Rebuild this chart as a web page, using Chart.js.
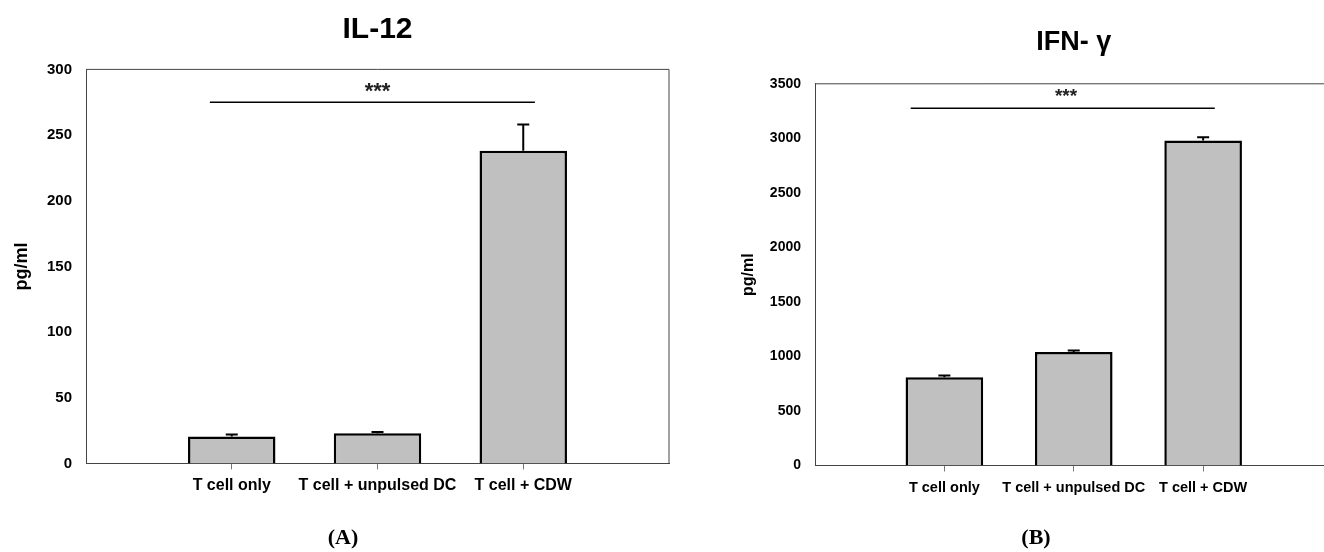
<!DOCTYPE html>
<html lang="en">
<head>
<meta charset="UTF-8">
<title>IL-12 and IFN-γ</title>
<script src="https://cdn.jsdelivr.net/npm/chart.js"></script>
<style>
    body {
        margin: 0;
        width: 1324px;
        height: 552px;
        overflow: hidden;
        position: relative;
        background: #fff;
    }
    .panel { position: absolute; top: 0; height: 552px; }
    #panelA { left: 0; width: 680px; }
    #panelB { left: 680px; width: 660px; }
    .caption {
        position: absolute;
        top: 526px;
        width: 100px;
        text-align: center;
        font: bold 22px/22px 'Liberation Serif', 'DejaVu Serif', serif;
        color: #000;
    }
</style>
</head>
<body>
<div class="panel" id="panelA"><canvas id="chartA"></canvas></div>
<div class="panel" id="panelB"><canvas id="chartB"></canvas></div>
<div class="caption" style="left:293px">(A)</div>
<div class="caption" style="left:986px">(B)</div>
<script>
const categories = ['T cell only', 'T cell + unpulsed DC', 'T cell + CDW'];

const il12Values = [20.5, 23, 238];
const il12Errors = [1.5, 1, 20];
const il12Ticks = [0, 50, 100, 150, 200, 250, 300];

const ifngValues = [810, 1040, 2980];
const ifngErrors = [15, 15, 30];
const ifngTicks = [0, 500, 1000, 1500, 2000, 2500, 3000, 3500];

// significance bar: from, to (category position), height (pg/ml)
const il12Sig = [0.85, 3.08, 275];
const ifngSig = [0.74, 3.09, 3275];

const FONT = "'Liberation Sans', Arial, sans-serif";

// top and right edge of the plot box
const frame = {
    id: 'frame',
    beforeDatasetsDraw(chart) {
        const { ctx, chartArea: a } = chart;
        ctx.save();
        ctx.strokeStyle = '#444';
        ctx.lineWidth = 1;
        ctx.beginPath();
        ctx.moveTo(a.left, a.top);
        ctx.lineTo(a.right, a.top);
        ctx.lineTo(a.right, a.bottom);
        ctx.stroke();
        ctx.restore();
    }
};

const errorBars = {
    id: 'errorBars',
    afterDatasetsDraw(chart) {
        const { ctx } = chart;
        const y = chart.scales.y;
        const ds = chart.data.datasets[0];
        ctx.save();
        ctx.strokeStyle = '#000';
        ctx.lineWidth = 2;
        chart.getDatasetMeta(0).data.forEach((bar, i) => {
            const v = ds.data[i], e = ds.errors[i];
            if (v == null || e == null) return;
            const top = y.getPixelForValue(v + e);
            ctx.beginPath();
            ctx.moveTo(bar.x, bar.y);
            ctx.lineTo(bar.x, top);
            ctx.moveTo(bar.x - 6, top);
            ctx.lineTo(bar.x + 6, top);
            ctx.stroke();
        });
        ctx.restore();
    }
};

const sig = {
    id: 'sig',
    afterDatasetsDraw(chart, args, o) {
        const { ctx, scales: { x, y } } = chart;
        const x1 = x.getPixelForValue(o.bar[0]);
        const x2 = x.getPixelForValue(o.bar[1]);
        const yy = y.getPixelForValue(o.bar[2]);
        ctx.save();
        ctx.strokeStyle = '#000';
        ctx.lineWidth = 1.5;
        ctx.beginPath();
        ctx.moveTo(x1, yy);
        ctx.lineTo(x2, yy);
        ctx.stroke();
        ctx.fillStyle = '#222';
        ctx.font = 'bold ' + o.size + 'px ' + FONT;
        ctx.textAlign = 'center';
        ctx.textBaseline = 'alphabetic';
        ctx.fillText('***', x.getPixelForValue(o.starsAt), yy + o.shift);
        ctx.restore();
    }
};

function makeChart(id, p) {
    return new Chart(document.getElementById(id), {
        type: 'bar',
        data: {
            labels: ['', ...categories, ''],
            datasets: [{
                data: [null, ...p.values, null],
                errors: [null, ...p.errors, null],
                backgroundColor: '#c0c0c0',
                borderColor: '#000',
                borderWidth: 2.5,
                barPercentage: 0.6,
                categoryPercentage: 1
            }]
        },
        options: {
            responsive: true,
            maintainAspectRatio: false,
            animation: false,
            layout: { padding: { top: 0, left: 0, right: p.padRight, bottom: 0 } },
            plugins: {
                legend: { display: false },
                tooltip: { enabled: false },
                title: {
                    display: true,
                    text: p.title,
                    fullSize: false,
                    color: '#000',
                    font: { family: FONT, size: p.titleSize, weight: 'bold' },
                    padding: { top: p.titleTop, bottom: p.titleBottom }
                },
                sig: { bar: p.sig, starsAt: p.starsAt, size: p.starSize, shift: p.starShift }
            },
            scales: {
                x: {
                    offset: false,
                    grid: {
                        offset: false,
                        drawOnChartArea: false,
                        tickLength: 6,
                        tickColor: c => (c.index === 0 || c.index === categories.length + 1) ? 'rgba(0,0,0,0)' : '#777'
                    },
                    border: { color: '#444' },
                    ticks: {
                        autoSkip: false,
                        maxRotation: 0,
                        color: '#000',
                        padding: p.xPad,
                        font: { family: FONT, size: p.xSize, weight: 'bold' }
                    },
                    afterFit: s => { s.height = p.xHeight; }
                },
                y: {
                    min: p.ticks[0],
                    max: p.ticks[p.ticks.length - 1],
                    afterBuildTicks: s => { s.ticks = p.ticks.map(v => ({ value: v })); },
                    grid: { display: false, drawTicks: false },
                    border: { color: '#444' },
                    ticks: {
                        color: '#000',
                        padding: p.yPad,
                        font: { family: FONT, size: p.ySize, weight: 'bold' },
                        callback: v => String(v)
                    },
                    title: {
                        display: true,
                        text: 'pg/ml',
                        color: '#000',
                        font: { family: FONT, size: p.yTitleSize, weight: 'bold' },
                        padding: { top: p.yTitleTop, bottom: 0 }
                    },
                    afterFit: s => { s.width = p.yWidth; }
                }
            }
        },
        plugins: [frame, errorBars, sig]
    });
}

makeChart('chartA', {
    title: 'IL-12', titleSize: 30, titleTop: 12, titleBottom: 21.4,
    values: il12Values, errors: il12Errors, ticks: il12Ticks,
    sig: il12Sig, starsAt: 2, starSize: 22, starShift: -4,
    padRight: 11, yWidth: 86, xHeight: 88.6,
    xSize: 16, xPad: 7, ySize: 15, yPad: 14, yTitleSize: 18, yTitleTop: 11
});

makeChart('chartB', {
    title: 'IFN- γ', titleSize: 27, titleTop: 26.5, titleBottom: 24.9,
    values: ifngValues, errors: ifngErrors, ticks: ifngTicks,
    sig: ifngSig, starsAt: 1.94, starSize: 19, starShift: -6,
    padRight: 6, yWidth: 135, xHeight: 86.5,
    xSize: 14.5, xPad: 7.5, ySize: 14, yPad: 14, yTitleSize: 16, yTitleTop: 59
});
</script>
</body>
</html>
